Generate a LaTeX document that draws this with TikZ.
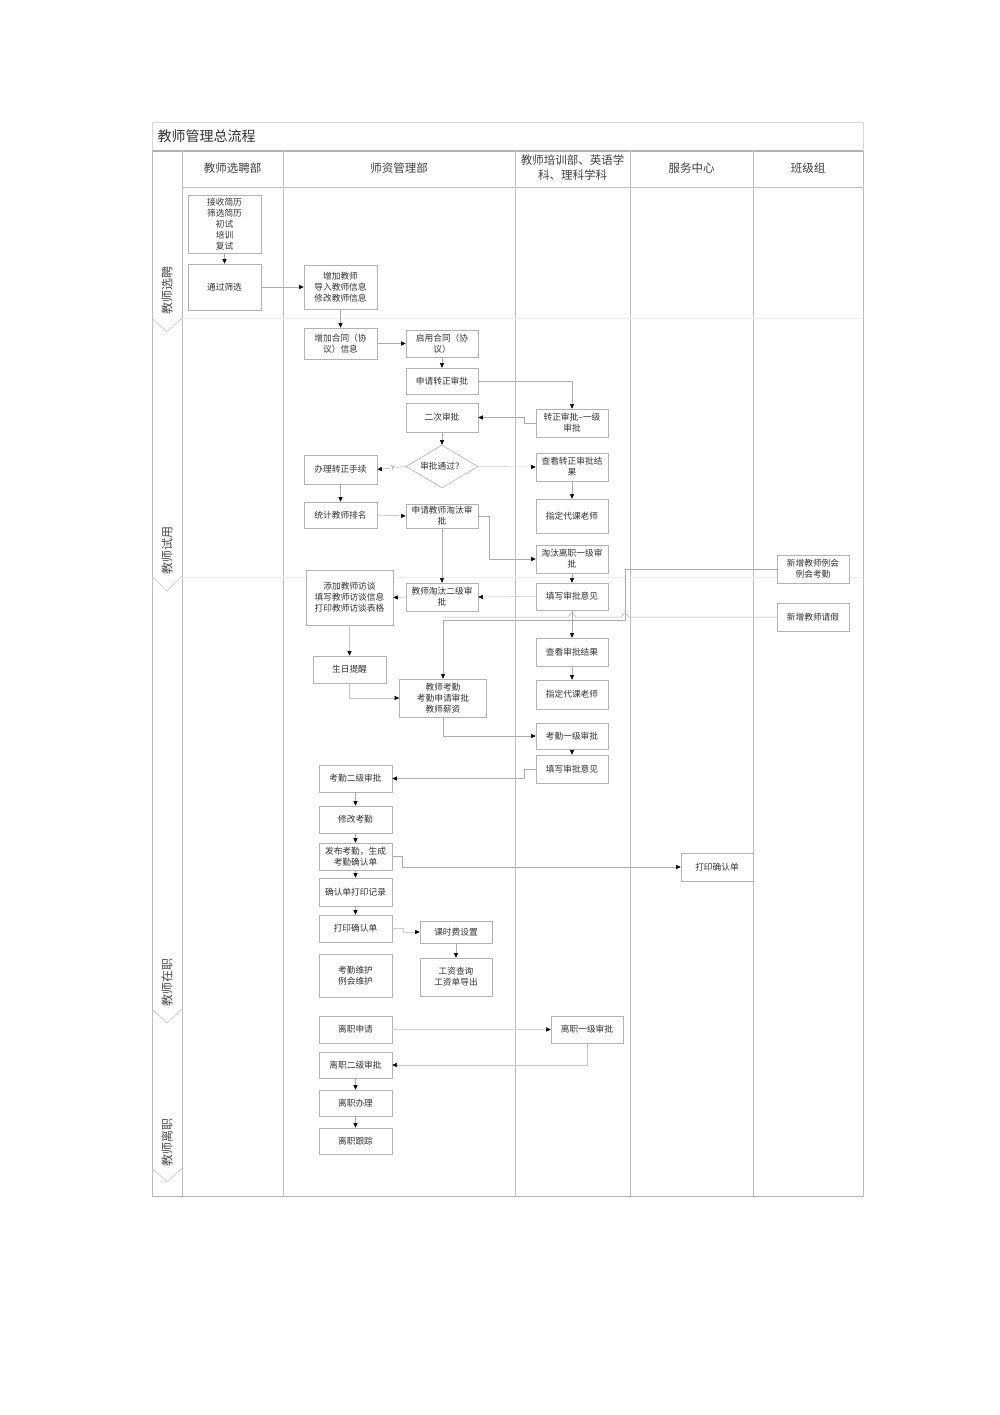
\documentclass[tikz,border=0pt]{standalone}
\usepackage{fontspec}
\setmainfont{Noto Sans CJK SC}
\usetikzlibrary{arrows.meta,shapes.geometric}
\newcommand\bx[6]{\node[box,minimum width=#3pt,minimum height=#4pt] (#5) at (#1,#2) {#6};}
\begin{document}
\begin{tikzpicture}[x=1pt,y=-1pt,
  box/.style={draw=gray!60, line width=0.6pt, fill=white, align=center, inner sep=1pt,
    font=\fontsize{8.7}{11}\selectfont, text=black!80},
  dec/.style={diamond, draw=gray!60, line width=0.6pt, fill=white, aspect=1.7, inner sep=0pt,
    minimum width=72pt, minimum height=43pt, font=\fontsize{8.7}{11}\selectfont, text=black!80},
  conn/.style={draw=gray!65, line width=0.5pt, -{Triangle[length=4.5pt,width=4pt,color=black]}},
  conn0/.style={draw=gray!65, line width=0.5pt},
  lane/.style={draw=gray!50, line width=0.6pt},
  hdr/.style={font=\fontsize{11.5}{15}\selectfont, text=black!75, align=center},
  phase/.style={rotate=90, font=\fontsize{12}{14}\selectfont, text=black!70},
  chev/.style={draw=gray!45, line width=0.6pt}
]
\useasboundingbox (0,0) rectangle (1000,1415);
\fill[white] (0,0) rectangle (1000,1415);

% frame and lanes
\draw[draw=gray!30, line width=0.6pt] (152,122) rectangle (863,151);
\draw[draw=gray!60, line width=1.2pt] (152,151) -- (863,151);
\draw[lane] (152,151) -- (152,1196);
\draw[lane] (182,151) -- (182,1196);
\draw[lane] (283,151) -- (283,1196);
\draw[lane] (515,151) -- (515,1196);
\draw[lane] (630,151) -- (630,1196);
\draw[lane] (753,151) -- (753,1196);
\draw[lane] (863,151) -- (863,1196);
\draw[lane] (182,187) -- (863,187);
\draw[draw=gray!60, line width=1pt] (152,1196) -- (863,1196);
\draw[draw=gray!12, line width=0.6pt] (182,318) -- (863,318);
\draw[draw=gray!12, line width=0.6pt] (182,577) -- (863,577);

\node[anchor=west, font=\fontsize{14}{16}\selectfont, text=black!80] (title) at (154,136) {教师管理总流程};
\node[hdr] (h1) at (232.5,168) {教师选聘部};
\node[hdr] (h2) at (399,168) {师资管理部};
\node[hdr] (h3) at (572.5,168) {教师培训部、英语学\\科、理科学科};
\node[hdr] (h4) at (691.5,168) {服务中心};
\node[hdr] (h5) at (808,168) {班级组};

% phases
\draw[chev] (152,318) -- (167,332) -- (182,318);
\draw[chev] (152,576) -- (167,591) -- (182,576);
\draw[chev] (152,1009) -- (167,1023) -- (182,1009);
\draw[chev] (152,1168) -- (167,1182) -- (182,1168);
\node[phase] (p1) at (167,290) {教师选聘};
\node[phase] (p2) at (167,550) {教师试用};
\node[phase] (p3) at (167,982) {教师在职};
\node[phase] (p4) at (167,1142) {教师离职};

% boxes
\bx{224.5}{224}{73}{58}{recv}{接收简历\\筛选简历\\初试\\培训\\复试}
\bx{224.5}{287}{73}{46}{pass}{通过筛选}
\bx{340.5}{287}{73}{44}{add}{增加教师\\导入教师信息\\修改教师信息}
\bx{340.5}{343.5}{73}{31}{contract}{增加合同（协\\议）信息}
\bx{442}{343.5}{72}{27}{enable}{启用合同（协\\议）}
\bx{442}{381}{72}{26}{apply}{申请转正审批}
\bx{442}{417.5}{72}{29}{second}{二次审批}
\bx{572}{423}{72}{28}{first}{转正审批–一级\\审批}
\node[dec] (dia) at (442,466.5) {审批通过？};
\bx{340.5}{469.5}{73}{29}{handle}{办理转正手续}
\bx{572}{467}{72}{28}{view}{查看转正审批结\\果}
\bx{572}{516}{72}{34}{assign}{指定代课老师}
\bx{340.5}{515}{73}{26}{rank}{统计教师排名}
\bx{442}{516}{72}{24}{elim}{申请教师淘汰审\\批}
\bx{572}{559}{72}{28}{elimA}{淘汰离职一级审\\批}
\bx{349.5}{597.5}{87}{55}{interview}{添加教师访谈\\填写教师访谈信息\\打印教师访谈表格}
\bx{442}{597}{72}{28}{elimB}{教师淘汰二级审\\批}
\bx{572}{596.5}{72}{27}{fillA}{填写审批意见}
\bx{572}{652}{72}{28}{res}{查看审批结果}
\bx{572}{694.5}{72}{29}{assignB}{指定代课老师}
\bx{349.5}{669.5}{73}{27}{bday}{生日提醒}
\bx{443}{698}{87}{38}{attend}{教师考勤\\考勤申请审批\\教师薪资}
\bx{572}{736}{72}{26}{attA}{考勤一级审批}
\bx{572}{769}{72}{28}{fillB}{填写审批意见}
\bx{355.5}{778.5}{73}{27}{attB}{考勤二级审批}
\bx{355.5}{819.5}{73}{27}{modify}{修改考勤}
\bx{355.5}{856.5}{73}{27}{publish}{发布考勤，生成\\考勤确认单}
\bx{355.5}{892}{73}{28}{record}{确认单打印记录}
\bx{355.5}{928.5}{73}{27}{printc}{打印确认单}
\bx{355.5}{975.5}{73}{43}{maint}{考勤维护\\例会维护}
\bx{456}{932}{72}{22}{fee}{课时费设置}
\bx{456}{977}{72}{38}{salary}{工资查询\\工资单导出}
\bx{717}{867}{72}{28}{printsvc}{打印确认单}
\bx{813}{569}{72}{28}{meet}{新增教师例会\\例会考勤}
\bx{813}{617}{72}{28}{leave}{新增教师请假}
\bx{355.5}{1029.5}{73}{27}{resign}{离职申请}
\bx{587}{1029.5}{72}{27}{resignA}{离职一级审批}
\bx{355.5}{1065}{73}{26}{resignB}{离职二级审批}
\bx{355.5}{1103}{73}{26}{quit}{离职办理}
\bx{355.5}{1141}{73}{26}{track}{离职跟踪}

% connectors
\draw[conn] (recv.south) -- (pass.north);
\draw[conn] (pass.east) -- (add.west);
\draw[conn] (add.south) -- (contract.north);
\draw[conn] (contract.east) -- (enable.west);
\draw[conn] (enable.south) -- (apply.north);
\draw[conn] (apply.east) -| (first.north);
\draw[conn] (first.west) -- ++(-11,0) |- (second.east);
\draw[conn] (second.south) -- (dia.north);
\draw[conn] (dia.west) -- node[pos=0.45, fill=white, inner sep=1pt, font=\fontsize{7}{8}\selectfont, text=gray] (ylab) {Y} (handle.east);
\draw[conn, draw=gray!40] (dia.east) -- (view.west);
\draw[conn] (view.south) -- (assign.north);
\draw[conn] (handle.south) -- (rank.north);
\draw[conn] (rank.east) -- (elim.west);
\draw[conn] (elim.east) -- ++(11,0) |- (elimA.west);
\draw[conn] (elim.south) -- (elimB.north);
\draw[conn] (elimA.south) -- (fillA.north);
\draw[conn, draw=gray!40] (fillA.west) -- (elimB.east);
\draw[conn] (elimB.west) -- (interview.east);
\draw[conn] (fillA.south) -- (res.north);
\draw[conn] (res.south) -- (assignB.north);
\draw[conn, draw=gray!45] (interview.south) -- (bday.north);
\draw[conn, draw=gray!45] (bday.south) |- (attend.west);
\coordinate (jA) at (443,617);
\coordinate (jB) at (443,620);
\draw[conn0] (leave.west) -- (628.5,617) .. controls (628.5,612.5) and (621.5,612.5) .. (621.5,617)
   -- (575.5,617) .. controls (575.5,612.5) and (568.5,612.5) .. (568.5,617) -- (jA);
\draw[conn] (meet.west) -- (625,569) -- (625,620) -- (jB) -- (attend.north);
\draw[conn] (attend.south) |- (attA.west);
\draw[conn] (attA.south) -- (fillB.north);
\draw[conn] (fillB.west) -- ++(-11,0) |- (attB.east);
\draw[conn] (attB.south) -- (modify.north);
\draw[conn] (modify.south) -- (publish.north);
\draw[conn] (publish.south) -- (record.north);
\draw[conn] (record.south) -- (printc.north);
\draw[conn, draw=gray!40] (printc.east) -- ++(11,0) |- (fee.west);
\draw[conn] (fee.south) -- (salary.north);
\draw[conn] (publish.east) -- ++(10,0) |- (printsvc.west);
\draw[conn, draw=gray!35] (resign.east) -- (resignA.west);
\draw[conn, draw=gray!45] (resignA.south) |- (resignB.east);
\draw[conn] (resignB.south) -- (quit.north);
\draw[conn] (quit.south) -- (track.north);
\end{tikzpicture}
\end{document}
